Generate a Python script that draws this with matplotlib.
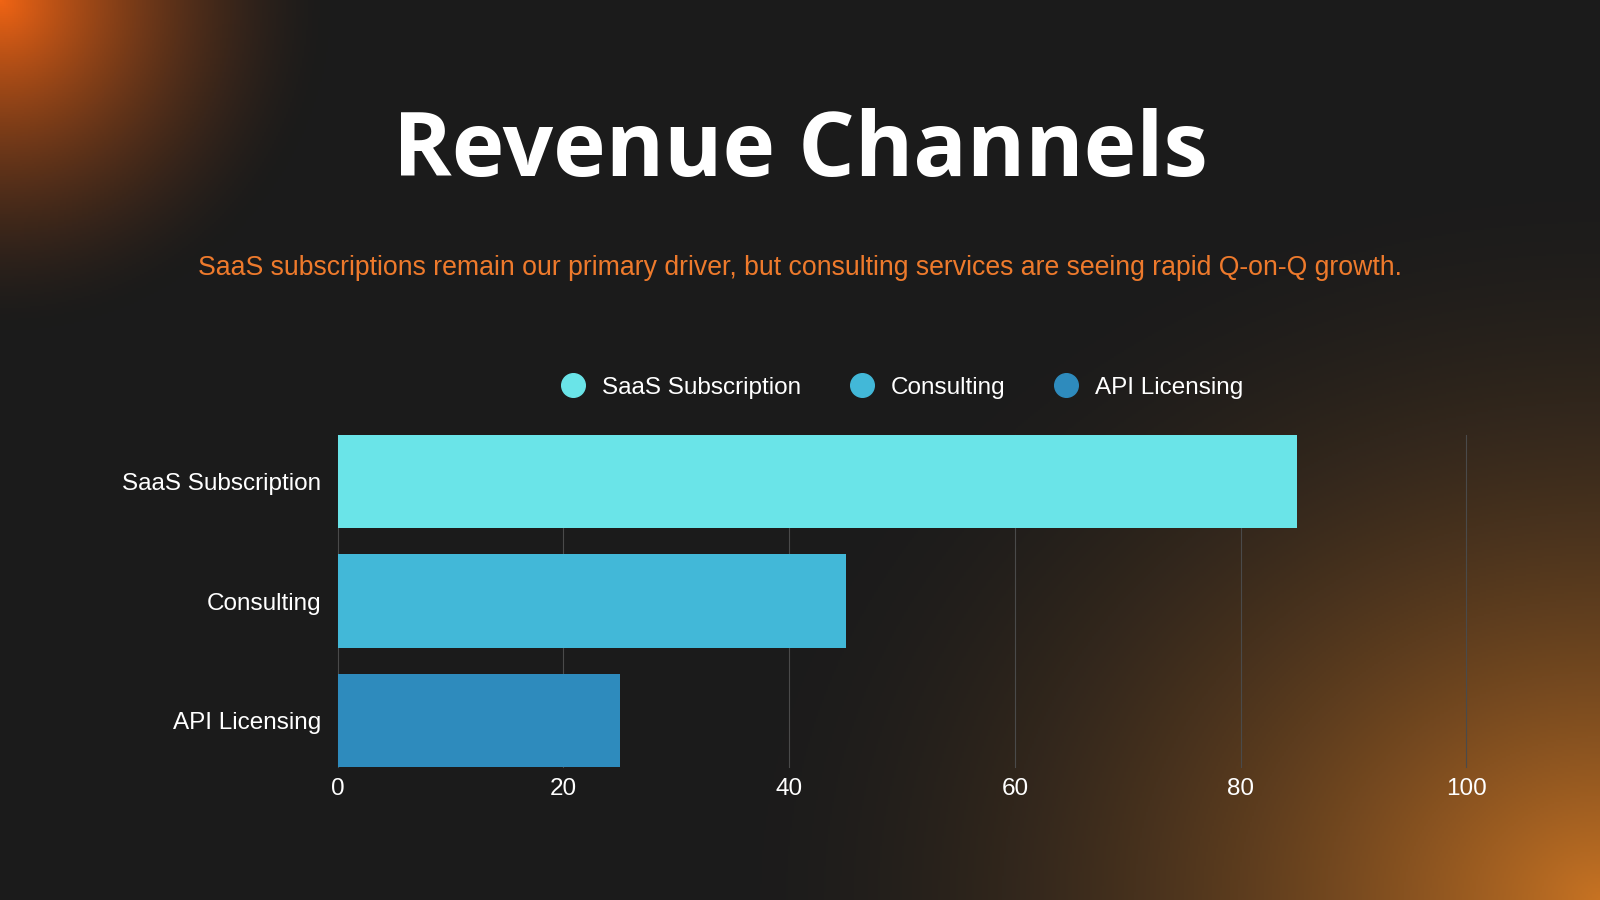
import numpy as np
import matplotlib.pyplot as plt
from matplotlib.lines import Line2D

# data
channels = ["SaaS Subscription", "Consulting", "API Licensing"]
values = [85, 45, 25]
colors = ["#6ae4e8", "#42b8d8", "#2e8bbd"]
ticks = [0, 20, 40, 60, 80, 100]

fig = plt.figure(figsize=(16, 9), dpi=100)

# background with orange glows
bg = fig.add_axes([0, 0, 1, 1])
h, w = 450, 800
yy, xx = np.mgrid[0:h, 0:w]
xx = xx / w * 16
yy = yy / h * 9
base = np.array([27, 27, 27]) / 255
orange = np.array([240, 100, 20]) / 255
orange2 = np.array([200, 115, 35]) / 255
d1 = np.sqrt(xx ** 2 + yy ** 2)
g1 = np.clip(1 - d1 / 3.3, 0, 1) ** 1.6
d2 = np.sqrt(((xx - 16) / 1.2) ** 2 + ((yy - 9) / 1.0) ** 2)
g2 = np.clip(1 - d2 / 7.5, 0, 1) ** 1.9
img = base[None, None, :] * (1 - g1[..., None] - g2[..., None]).clip(0, 1) \
    + orange[None, None, :] * g1[..., None] + orange2[None, None, :] * g2[..., None]
bg.imshow(np.clip(img, 0, 1), extent=[0, 16, 0, 9], aspect="auto", origin="upper")
bg.axis("off")

fig.text(0.5, 0.83, "Revenue Channels", ha="center", va="center",
         color="white", fontsize=64, fontweight="bold", family="Open Sans")
fig.text(0.5, 0.702, "SaaS subscriptions remain our primary driver, but consulting services are seeing rapid Q-on-Q growth.",
         ha="center", va="center", color="#ee7a2c", fontsize=19.2, family="Liberation Sans")

ax = fig.add_axes([0.211, 0.1474, 0.7055, 0.3696])
ax.patch.set_alpha(0)
y = np.arange(len(channels))
ax.barh(y, values, height=0.78, color=colors, zorder=3)
ax.set_xlim(0, 100)
ax.set_ylim(len(channels) - 1 + 0.39, -0.39)
ax.set_xticks(ticks)
ax.set_yticks(y)
ax.set_yticklabels(channels)
for t in ticks:
    ax.axvline(t, color="#4a4a4a", linewidth=0.8, zorder=0, clip_on=False)
for s in ax.spines.values():
    s.set_visible(False)
ax.tick_params(length=0, colors="white", labelsize=17.5)
ax.tick_params(axis="x", pad=8)
ax.tick_params(axis="y", pad=12)
for lab in ax.get_xticklabels() + ax.get_yticklabels():
    lab.set_family("Liberation Sans")

handles = [Line2D([], [], marker="o", linestyle="", markersize=17, color=c) for c in colors]
fig.legend(handles, channels, loc="center", bbox_to_anchor=(0.56, 0.569), ncol=3,
           frameon=False, labelcolor="white", handletextpad=0.2, columnspacing=1.5,
           prop={"family": "Liberation Sans", "size": 17.5})

fig.savefig("out.png", dpi=100)
